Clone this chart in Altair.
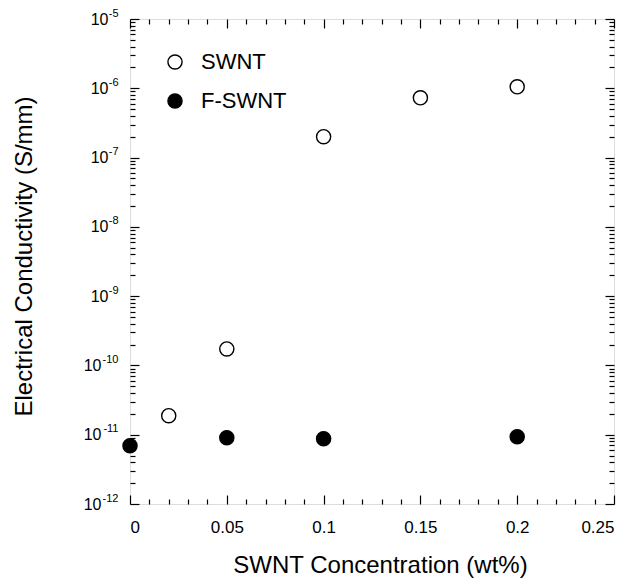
import altair as alt
import pandas as pd

# ---- data ----
series_names = ["SWNT", "F-SWNT"]
swnt_x = [0.02, 0.05, 0.1, 0.15, 0.2]
swnt_y = [1.88e-11, 1.73e-10, 2.0e-7, 7.3e-7, 1.05e-6]
fswnt_x = [0.0, 0.05, 0.1, 0.2]
fswnt_y = [6.95e-12, 9.06e-12, 8.77e-12, 9.37e-12]

# ---- ticks and tick labels ----
x_major = [0, 0.05, 0.1, 0.15, 0.2, 0.25]
x_minor = [0.01, 0.02, 0.03, 0.04, 0.06, 0.07, 0.08, 0.09,
           0.11, 0.12, 0.13, 0.14, 0.16, 0.17, 0.18, 0.19,
           0.21, 0.22, 0.23, 0.24]
y_exponents = [-12, -11, -10, -9, -8, -7, -6, -5]
y_base_label = "10"
y_exp_labels = ["-12", "-11", "-10", "-9", "-8", "-7", "-6", "-5"]
y_major = [10.0 ** e for e in y_exponents]
y_minor = [m * 10.0 ** e for e in y_exponents[:-1] for m in range(2, 10)]

df = pd.DataFrame({
    "x": swnt_x + fswnt_x,
    "y": swnt_y + fswnt_y,
    "series": [series_names[0]] * len(swnt_x) + [series_names[1]] * len(fswnt_x),
})

W, H = 484, 485
FONT = "Liberation Sans"

xscale = alt.Scale(domain=[0, 0.25], nice=False, zero=False)
yscale = alt.Scale(type="log", domain=[1e-12, 1e-5], nice=False)

exp_expr = ""
for e, lab in zip(y_exponents, y_exp_labels):
    exp_expr += f"round(log(datum.value)/LN10) == {e} ? '{lab}' : "
exp_expr += "''"

main = alt.Chart(df).mark_point(
    shape="circle", filled=True, stroke="black", strokeWidth=1.4,
    size=200, opacity=1
).encode(
    x=alt.X("x:Q", scale=xscale, axis=alt.Axis(
        orient="bottom", values=x_major, format="~g", ticks=False,
        domain=False, grid=False, labelFontSize=17, labelPadding=15,
        labelColor="black", labelFont=FONT,
        title="SWNT Concentration (wt%)", titleFontSize=24,
        titleFontWeight="normal", titleFont=FONT, titleColor="black",
        titleX=250, titleY=68, titleBaseline="alphabetic")),
    y=alt.Y("y:Q", scale=yscale, axis=alt.Axis(
        orient="left", values=y_major, labelExpr=f"'{y_base_label}'", ticks=False,
        domain=False, grid=False, labelFontSize=16,
        labelPadding=alt.condition("datum.value < 5e-10", alt.value(29), alt.value(22)),
        labelColor="black", labelFont=FONT,
        title="Electrical Conductivity (S/mm)", titleFontSize=24,
        titleFontWeight="normal", titleFont=FONT, titleColor="black",
        titleX=-106, titleY=237, titleAngle=-90, titleBaseline="middle")),
    fill=alt.Fill("series:N",
                  scale=alt.Scale(domain=series_names, range=["white", "black"]),
                  legend=alt.Legend(
                      title=None, orient="none", legendX=34, legendY=32,
                      labelFontSize=22, labelFont=FONT, labelColor="black",
                      symbolType="circle", symbolSize=200,
                      symbolStrokeColor="black", symbolStrokeWidth=1.4,
                      labelOffset=15, rowPadding=17, padding=0)),
)

# exponent labels (small, raised), drawn as a second left axis
exp_layer = alt.Chart(df).mark_point(opacity=0).encode(
    x=alt.X("x:Q", scale=xscale, axis=None),
    y=alt.Y("y:Q", scale=yscale, axis=alt.Axis(
        orient="left", values=y_major, labelExpr=exp_expr, ticks=False,
        domain=False, grid=False, labelFontSize=11, labelPadding=12,
        labelOffset=-6, labelColor="black", labelFont=FONT, title=None)),
)


def tick_layer(xvals, xorient, xoff, xsize, yvals, yorient, yoff, ysize):
    return alt.Chart(df).mark_point(opacity=0).encode(
        x=alt.X("x:Q", scale=xscale, axis=alt.Axis(
            orient=xorient, offset=xoff, values=xvals, labels=False,
            domain=False, grid=False, ticks=True, tickSize=xsize,
            tickWidth=1.2, tickColor="black", title=None)),
        y=alt.Y("y:Q", scale=yscale, axis=alt.Axis(
            orient=yorient, offset=yoff, values=yvals, labels=False,
            domain=False, grid=False, ticks=True, tickSize=ysize,
            tickWidth=1.2, tickColor="black", title=None)),
    )


layers = [
    main,
    exp_layer,
    tick_layer(x_major, "top", -H, 9, y_major, "right", -W, 9),     # bottom & left majors (inward)
    tick_layer(x_minor, "top", -H, 5, y_minor, "right", -W, 5),     # bottom & left minors
    tick_layer(x_major, "bottom", -H, 9, y_major, "left", -W, 9),   # top & right majors
    tick_layer(x_minor, "bottom", -H, 5, y_minor, "left", -W, 5),   # top & right minors
]

chart = alt.layer(*layers).resolve_axis(
    x="independent", y="independent"
).properties(
    width=W, height=H,
    autosize=alt.AutoSizeParams(type="none"),
    padding={"left": 122, "top": 11, "right": 22, "bottom": 76},
).configure_view(
    stroke="black", strokeWidth=1.5
).configure(font=FONT)

chart.save("out.html", embed_options={"renderer": "svg", "actions": False})
